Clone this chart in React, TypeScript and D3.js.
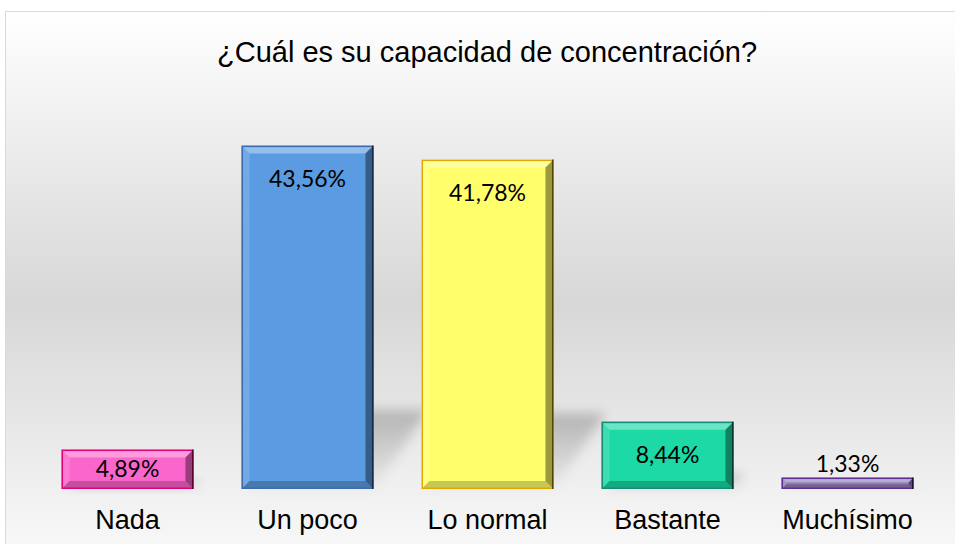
import React from 'react';
import * as d3 from 'd3';

const categories = ['Nada', 'Un poco', 'Lo normal', 'Bastante', 'Muchísimo'];
const values = [4.89, 43.56, 41.78, 8.44, 1.33];
const valueLabels = ['4,89%', '43,56%', '41,78%', '8,44%', '1,33%'];
const fills = ['#fa66cb', '#5b9be1', '#ffff6c', '#1cd9a5', '#9580b9'];
const edges = ['#e3007a', '#3a6cae', '#e2a600', '#128c76', '#5e2f93'];
const title = '¿Cuál es su capacidad de concentración?';

const W = 955;
const H = 544;

export default function App() {
  const x = d3.scaleBand<string>().domain(categories).range([37.5, 937.5]).paddingInner(0.267).paddingOuter(0.1335);
  const y = d3.scaleLinear().domain([0, 50]).range([488, 95]);
  const base = y(0) + 1;

  const bars = categories.map((c, i) => {
    const x0 = x(c)!;
    const w = x.bandwidth();
    const top = y(values[i]);
    const h = base - top;
    return { c, i, x0, w, top, h };
  });

  const pts = (p: number[][]) => p.map(q => q.join(',')).join(' ');

  return (
    <div style={{ position: 'fixed', left: 0, top: 0 }}>
      <svg width={W} height={H} style={{ display: 'block' }}>
        <defs>
          <linearGradient id="bg" x1="0" y1="0" x2="0" y2="1">
            <stop offset="0%" stopColor="#ffffff" />
            <stop offset="52%" stopColor="#d7d7d7" />
            <stop offset="100%" stopColor="#fbfbfb" />
          </linearGradient>
          <linearGradient id="shadowGrad" x1="0" y1="1" x2="0" y2="0">
            <stop offset="0%" stopColor="#000" stopOpacity="0.02" />
            <stop offset="100%" stopColor="#000" stopOpacity="0.22" />
          </linearGradient>
          <filter id="blur" x="-50%" y="-50%" width="200%" height="200%">
            <feGaussianBlur stdDeviation="6" />
          </filter>
        </defs>

        <rect x={5.5} y={11.5} width={970} height={560} fill="url(#bg)" stroke="#d9d9d9" strokeWidth={1} />

        <text x={487} y={62} textAnchor="middle" fontFamily="'Liberation Sans', Arial, sans-serif" fontSize={29} fill="#000">
          {title}
        </text>

        {/* perspective shadows */}
        {bars.map(b => {
          const rise = b.h * 0.23;
          const shift = b.h * 0.16;
          return (
            <polygon
              key={'s' + b.c}
              points={pts([
                [b.x0 + 6, base],
                [b.x0 + b.w, base],
                [b.x0 + b.w + shift, base - rise],
                [b.x0 + 6 + shift, base - rise],
              ])}
              fill="url(#shadowGrad)"
              filter="url(#blur)"
            />
          );
        })}

        {bars.map(b => {
          const { x0, w, top, h, i } = b;
          const bv = Math.min(8, h / 2 - 1);
          const x1 = x0 + w;
          const y1 = top + h;
          return (
            <g key={b.c}>
              <rect x={x0} y={top} width={w} height={h} fill={fills[i]} />
              <polygon points={pts([[x0, top], [x1, top], [x1 - bv, top + bv], [x0 + bv, top + bv]])} fill="#fff" fillOpacity={0.35} />
              <polygon points={pts([[x0, top], [x0 + bv, top + bv], [x0 + bv, y1 - bv], [x0, y1]])} fill="#fff" fillOpacity={0.15} />
              <polygon points={pts([[x1, top], [x1, y1], [x1 - bv, y1 - bv], [x1 - bv, top + bv]])} fill="#000" fillOpacity={0.4} />
              <polygon points={pts([[x0, y1], [x1, y1], [x1 - bv, y1 - bv], [x0 + bv, y1 - bv]])} fill="#000" fillOpacity={0.22} />
              <rect x={x0 + 0.75} y={top + 0.75} width={w - 1.5} height={h - 1.5} fill="none" stroke={edges[i]} strokeWidth={1.5} />
              <line x1={x1 - 0.75} x2={x1 - 0.75} y1={top} y2={y1} stroke="#000" strokeOpacity={0.6} strokeWidth={1.5} />
            </g>
          );
        })}

        {bars.map(b => {
          const inside = b.h > 30;
          const cy = inside ? b.top + Math.min(33, b.h / 2) : b.top - 14;
          return (
            <text
              key={'v' + b.c}
              x={b.x0 + b.w / 2}
              y={cy + 8}
              textAnchor="middle"
              fontFamily="Lato, 'Open Sans', sans-serif"
              fontSize={23}
              fill="#000"
            >
              {valueLabels[b.i]}
            </text>
          );
        })}

        {categories.map(c => (
          <text
            key={'c' + c}
            x={x(c)! + x.bandwidth() / 2}
            y={529}
            textAnchor="middle"
            fontFamily="'Liberation Sans', Arial, sans-serif"
            fontSize={27}
            fill="#000"
          >
            {c}
          </text>
        ))}
      </svg>
    </div>
  );
}
